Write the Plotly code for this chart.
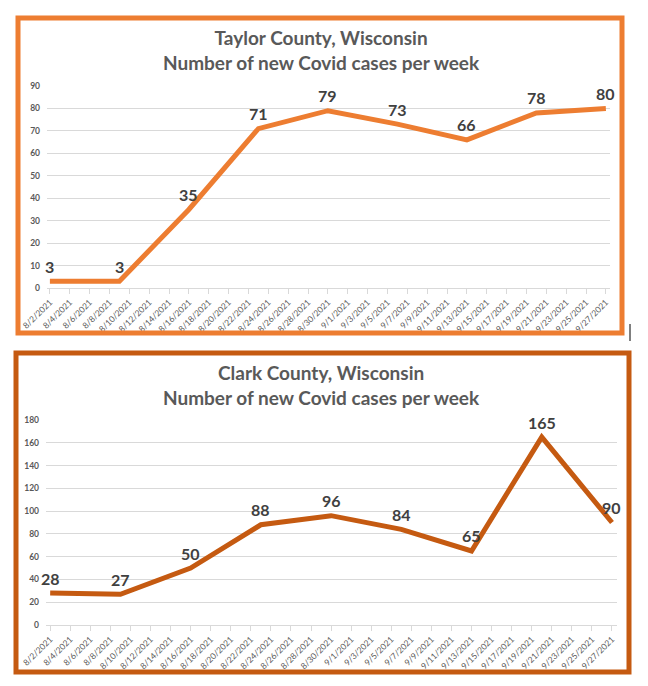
import plotly.graph_objects as go

# --- DATA ---
week_dates = ["2021-08-02", "2021-08-09", "2021-08-16", "2021-08-23", "2021-08-30",
              "2021-09-06", "2021-09-13", "2021-09-20", "2021-09-27"]
taylor_cases = [3, 3, 35, 71, 79, 73, 66, 78, 80]
clark_cases = [28, 27, 50, 88, 96, 84, 65, 165, 90]

taylor_title = "Taylor County, Wisconsin<br>Number of new Covid cases per week"
clark_title = "Clark County, Wisconsin<br>Number of new Covid cases per week"

# page body adds an 8px margin, so the figure is a bit smaller than the window
OFF = 8
W, H = 648 - OFF, 686 - OFF
FONT = "Lato"
GREY = "#595959"
GRID = "#D9D9D9"
TAYLOR_COLOR = "#ED7D31"
CLARK_COLOR = "#C55A11"


def px(x):
    return (x - OFF) / W


def py_(y):
    return 1 - (y - OFF) / H


fig = go.Figure()

panels = [(week_dates, taylor_cases, TAYLOR_COLOR, "x", "y"),
          (week_dates, clark_cases, CLARK_COLOR, "x2", "y2")]

for dates, cases, color, xa, ya in panels:
    fig.add_trace(go.Scatter(
        x=dates, y=cases, mode="lines",
        line=dict(color=color, width=5),
        xaxis=xa, yaxis=ya, showlegend=False, hoverinfo="x+y",
    ))
    # data labels above each point
    for d, v in zip(dates, cases):
        fig.add_annotation(
            x=d, y=v, xref=xa, yref=ya, text=str(v), showarrow=False,
            yshift=15, yanchor="middle",
            font=dict(family=FONT, size=16, color="#404040", weight="bold"),
        )

xcommon = dict(
    type="date", dtick=2 * 86400000, tick0="2021-08-02",
    tickformat="%-m/%-d/%Y", tickangle=-45,
    tickfont=dict(family=FONT, size=8.5, color=GREY),
    ticks="outside", ticklen=5, tickcolor=GRID,
    showline=True, linecolor=GRID, showgrid=False, zeroline=False,
    automargin=False,
)
ycommon = dict(
    tickfont=dict(family=FONT, size=8.5, color=GREY, weight="bold"),
    showgrid=True, gridcolor=GRID, gridwidth=1, zeroline=False,
    showline=False, ticks="", ticklabelstandoff=6, automargin=False,
)

fig.update_layout(
    width=W, height=H,
    margin=dict(l=0, r=0, t=0, b=0, pad=0),
    paper_bgcolor="white", plot_bgcolor="white",
    xaxis=dict(xcommon, domain=[px(47), px(610)], anchor="y",
               range=["2021-08-01 17:00", "2021-09-27 10:00"]),
    yaxis=dict(ycommon, domain=[py_(288), py_(86)], anchor="x",
               range=[0, 90], dtick=10),
    xaxis2=dict(xcommon, domain=[px(46), px(617)], anchor="y2",
                range=["2021-08-01 14:00", "2021-09-27 12:00"]),
    yaxis2=dict(ycommon, domain=[py_(625), py_(420)], anchor="x2",
                range=[0, 180], dtick=20),
)

# titles
for title, yc in [(taylor_title, 50), (clark_title, 385)]:
    fig.add_annotation(
        x=px(321), y=py_(yc), xref="paper", yref="paper",
        xanchor="center", yanchor="middle",
        text=title, showarrow=False, align="center",
        font=dict(family=FONT, size=19, color=GREY, weight="bold"),
    )

# chart borders
fig.add_shape(type="rect", xref="paper", yref="paper",
              x0=px(18), x1=px(622), y0=py_(333), y1=py_(18),
              line=dict(color=TAYLOR_COLOR, width=5), layer="above")
fig.add_shape(type="rect", xref="paper", yref="paper",
              x0=px(16), x1=px(629), y0=py_(672), y1=py_(353),
              line=dict(color=CLARK_COLOR, width=5), layer="above")

# small cursor mark next to top chart
fig.add_shape(type="line", xref="paper", yref="paper",
              x0=px(630), x1=px(630), y0=py_(341), y1=py_(324),
              line=dict(color="black", width=1))

fig.write_html("out.html")
